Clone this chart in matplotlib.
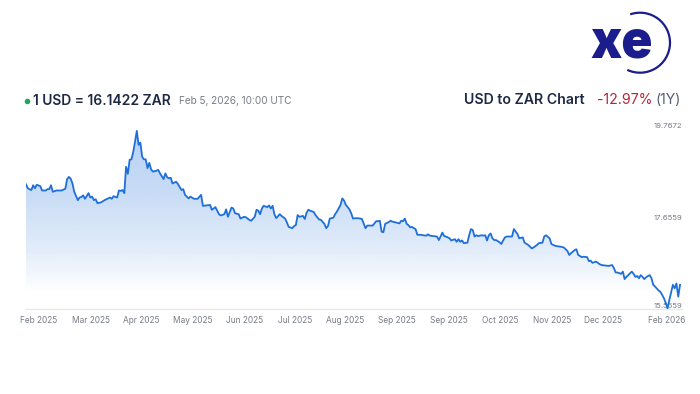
import numpy as np
import matplotlib
matplotlib.use("Agg")
import matplotlib.pyplot as plt
from matplotlib.patches import Arc

plt.rcParams['font.family'] = ['Inter', 'DejaVu Sans']

# data: USD to ZAR, days counted from Feb 5 2025
days = [0, 1, 3, 4, 5, 6, 8, 9, 11, 12, 13, 14, 15, 17, 20, 22, 23, 24, 25, 26,
        27, 29, 30, 31, 32, 33, 35, 36, 37, 38, 39, 40, 42, 44, 45, 47, 48, 49, 51, 52,
        53, 54, 55, 56, 57, 58, 59, 60, 61, 62, 63, 64, 65, 66, 67, 68, 69, 70, 71, 73,
        74, 75, 77, 78, 79, 80, 81, 82, 84, 85, 87, 88, 89, 91, 92, 94, 96, 98, 99, 101,
        103, 104, 106, 108, 109, 111, 112, 113, 115, 116, 117, 119, 120, 122, 123, 125, 126, 128, 129, 130,
        131, 132, 133, 135, 136, 137, 138, 139, 140, 142, 143, 145, 146, 147, 149, 150, 151, 152, 153, 155,
        156, 157, 158, 159, 161, 162, 164, 165, 167, 168, 169, 170, 172, 173, 174, 176, 177, 178, 179, 181,
        182, 183, 185, 187, 188, 190, 191, 193, 194, 196, 197, 198, 199, 200, 201, 203, 204, 205, 207, 209,
        210, 211, 212, 213, 214, 215, 216, 217, 218, 219, 221, 222, 224, 225, 226, 228, 230, 231, 232, 233,
        234, 235, 237, 238, 240, 241, 242, 243, 244, 245, 247, 248, 249, 250, 251, 252, 253, 255, 256, 257,
        258, 259, 260, 261, 262, 263, 265, 266, 267, 268, 269, 271, 272, 273, 275, 276, 278, 279, 281, 283,
        284, 286, 287, 289, 290, 291, 293, 294, 296, 297, 299, 301, 303, 304, 305, 307, 308, 309, 311, 312,
        314, 315, 316, 317, 319, 320, 321, 322, 324, 326, 328, 329, 330, 331, 333, 334, 335, 336, 337, 339,
        340, 341, 342, 343, 344, 345, 346, 347, 348, 349, 350, 351, 352, 354, 355, 356, 357, 358, 359, 360,
        361, 362, 363, 364, 365, 366]
rates = [18.43, 18.34, 18.30, 18.41, 18.34, 18.42, 18.39, 18.29, 18.29, 18.32, 18.32, 18.41, 18.26, 18.29, 18.29, 18.33, 18.55, 18.60, 18.56, 18.45,
         18.26, 18.07, 18.13, 18.14, 18.18, 18.10, 18.23, 18.13, 18.15, 18.07, 18.09, 18.00, 18.02, 18.07, 18.09, 18.13, 18.10, 18.16, 18.13, 18.29,
         18.28, 18.30, 18.23, 18.83, 18.67, 18.99, 19.00, 19.17, 19.40, 19.65, 19.33, 19.38, 19.06, 19.00, 19.00, 18.80, 18.92, 18.77, 18.72, 18.74,
         18.76, 18.68, 18.55, 18.68, 18.59, 18.57, 18.58, 18.45, 18.49, 18.44, 18.30, 18.32, 18.19, 18.11, 18.15, 18.10, 18.10, 18.19, 17.94, 17.95,
         17.96, 17.85, 17.91, 17.75, 17.72, 17.75, 17.86, 17.69, 17.90, 17.88, 17.77, 17.75, 17.65, 17.69, 17.68, 17.62, 17.60, 17.69, 17.85, 17.83,
         17.75, 17.88, 17.94, 17.91, 17.95, 17.88, 17.94, 17.75, 17.66, 17.75, 17.71, 17.65, 17.56, 17.46, 17.43, 17.48, 17.50, 17.73, 17.69, 17.71,
         17.64, 17.78, 17.85, 17.83, 17.80, 17.73, 17.63, 17.62, 17.53, 17.43, 17.48, 17.65, 17.67, 17.75, 17.81, 17.96, 18.11, 18.06, 17.96, 17.86,
         17.77, 17.65, 17.66, 17.65, 17.64, 17.43, 17.49, 17.49, 17.49, 17.59, 17.59, 17.60, 17.35, 17.34, 17.53, 17.57, 17.60, 17.58, 17.56, 17.54,
         17.60, 17.59, 17.65, 17.53, 17.50, 17.45, 17.46, 17.43, 17.41, 17.28, 17.28, 17.27, 17.26, 17.29, 17.26, 17.25, 17.24, 17.16, 17.24, 17.33,
         17.25, 17.24, 17.20, 17.15, 17.18, 17.12, 17.18, 17.12, 17.15, 17.09, 17.10, 17.27, 17.41, 17.39, 17.24, 17.27, 17.25, 17.27, 17.26, 17.27,
         17.15, 17.27, 17.31, 17.20, 17.16, 17.16, 17.11, 17.07, 17.15, 17.22, 17.24, 17.24, 17.24, 17.41, 17.30, 17.20, 17.22, 17.10, 17.05, 16.97,
         16.99, 17.05, 17.09, 17.10, 17.24, 17.27, 17.20, 17.07, 17.03, 17.02, 17.01, 16.99, 16.91, 16.82, 16.86, 16.93, 16.95, 16.82, 16.77, 16.78,
         16.77, 16.68, 16.69, 16.64, 16.67, 16.64, 16.61, 16.59, 16.58, 16.57, 16.59, 16.52, 16.42, 16.42, 16.39, 16.44, 16.27, 16.32, 16.36, 16.44,
         16.39, 16.32, 16.34, 16.29, 16.36, 16.32, 16.27, 16.31, 16.34, 16.36, 16.29, 16.14, 16.10, 16.01, 15.98, 15.91, 15.83, 15.73, 15.60, 15.79,
         15.96, 16.14, 16.06, 16.17, 15.87, 16.14]

tick_days = [7.3, 36.4, 64.4, 93.5, 122.5, 150.5, 178.5, 207.6, 236.7, 265.2, 294.3, 322.9, 358.7]
tick_labels = ['Feb 2025', 'Mar 2025', 'Apr 2025', 'May 2025', 'Jun 2025', 'Jul 2025', 'Aug 2025',
               'Sep 2025', 'Sep 2025', 'Oct 2025', 'Nov 2025', 'Dec 2025', 'Feb 2026']
y_labels = ['19.7672', '17.6559', '15.5559']

line_col = '#1f6fd9'
navy = '#1e2a45'
grey = '#767c86'

fig = plt.figure(figsize=(7, 3.94), dpi=100)
ax = fig.add_axes([26 / 700, 85 / 394, 656 / 700, 189 / 394])
ylo, yhi = 15.588, 19.897
xmax = 367.1
ax.set_xlim(0, xmax)
ax.set_ylim(ylo, yhi)

# gradient fill under the line
gv = np.linspace(ylo, yhi, 300)
img = np.zeros((300, 1, 4))
img[..., :3] = matplotlib.colors.to_rgb(line_col)
img[:, 0, 3] = np.interp(gv, [15.975, 16.933, 18.301, 19.897], [0.0, 0.13, 0.25, 0.33])
im = ax.imshow(img, extent=[0, xmax, ylo, yhi], origin='lower', aspect='auto', zorder=1)
poly = ax.fill_between(days, rates, ylo, facecolor='none', edgecolor='none')
im.set_clip_path(poly.get_paths()[0], transform=ax.transData)

ax.plot(days, rates, color=line_col, lw=1.3, zorder=3, solid_joinstyle='round')

for s in ax.spines.values():
    s.set_visible(False)
ax.axhline(ylo, color='#e6e8eb', lw=1, clip_on=False, zorder=0)
ax.set_yticks([])
ax.set_xticks(tick_days)
ax.set_xticklabels(tick_labels, fontsize=6, color=grey)
ax.tick_params(axis='x', length=0, pad=5)

yt = ax.get_yaxis_transform()
ax.text(1.0, float(y_labels[0]), y_labels[0], transform=yt, ha='right', va='center',
        fontsize=5.6, color=grey, zorder=2)
ax.text(1.0, float(y_labels[1]), y_labels[1], transform=yt, ha='right', va='center',
        fontsize=5.6, color=grey, zorder=2)
ax.text(1.0, ylo, y_labels[2], transform=yt, ha='right', va='bottom',
        fontsize=5.6, color=grey, zorder=2)

# header and logo in pixel coordinates
ov = fig.add_axes([0, 0, 1, 1])
ov.set_xlim(0, 700)
ov.set_ylim(394, 0)
ov.axis('off')

ov.plot([26.5], [100.5], 'o', color='#22a55a', ms=3.0)
ov.text(33, 100.5, '1 USD = 16.1422 ZAR', fontsize=10, fontweight='semibold',
        color=navy, ha='left', va='center')
ov.text(179, 100.5, 'Feb 5, 2026, 10:00 UTC', fontsize=7.2, color=grey, ha='left', va='center')

ov.text(681, 99.5, '(1Y)', fontsize=10.2, color='#566074', ha='right', va='center')
ov.text(652, 99.5, '-12.97%', fontsize=10.2, color='#b3263a', ha='right', va='center')
ov.text(585, 99.5, 'USD to ZAR Chart', fontsize=10.2, fontweight='semibold',
        color=navy, ha='right', va='center')

logo_col = '#1b1d8c'
ov.text(621.5, 57, 'xe', fontsize=37, fontweight='black', color=logo_col,
        ha='center', va='baseline')
ov.add_patch(Arc((640, 42.7), 60, 60, theta1=-109, theta2=115, color=logo_col, lw=1.6))

fig.savefig('out.png', dpi=100)
